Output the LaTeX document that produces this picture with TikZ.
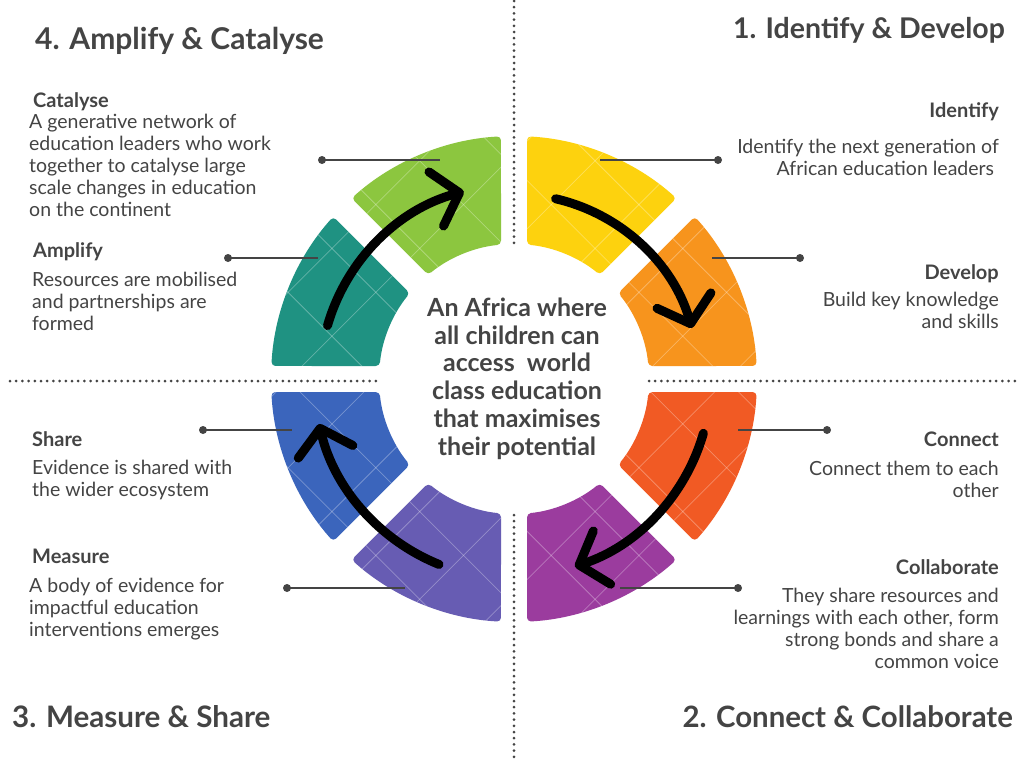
\documentclass[tikz,border=0pt]{standalone}
\usepackage{fontspec}
\setmainfont{Lato}
\usetikzlibrary{arrows.meta,calc}
\definecolor{cYellow}{HTML}{FDD20E}
\definecolor{cOrange}{HTML}{F7941D}
\definecolor{cRed}{HTML}{F15A24}
\definecolor{cPurple}{HTML}{9B3C9E}
\definecolor{cViolet}{HTML}{675CB3}
\definecolor{cBlue}{HTML}{3B65BC}
\definecolor{cTeal}{HTML}{1F9282}
\definecolor{cGreen}{HTML}{8CC63F}
\definecolor{txt}{HTML}{444444}
\newcommand\ringseg[2]{%
  \pgfmathsetmacro\ao{#1+3.07}\pgfmathsetmacro\bo{#1+45-3.07}%
  \pgfmathsetmacro\ai{#1+5.53}\pgfmathsetmacro\bi{#1+45-5.53}%
  \begin{scope}
    \clip[rounded corners=4pt] ($(C)+(\ao:243)$) arc[start angle=\ao,end angle=\bo,radius=243]
      -- ($(C)+(\bi:135)$) arc[start angle=\bi,end angle=\ai,radius=135] -- cycle;
    \fill[#2] (250,-100) rectangle (780,-660);
    \foreach \i in {0,...,13}{
      \draw[hatch] ({405+\i*87.7-800},-800) -- ({405+\i*87.7},0);
      \draw[hatch] ({-355+\i*87.7+800},-800) -- ({-355+\i*87.7},0);
    }
  \end{scope}}
\tikzset{
  hatch/.style={draw=white,opacity=0.3,line width=0.8pt},
  dotline/.style={draw=txt,line width=3pt,line cap=round,dash pattern=on 0pt off 6.2pt},
  conn/.style={draw=txt,line width=1.6pt},
  dotmark/.style={circle,fill=txt,inner sep=0pt,minimum size=8pt},
  bigarrow/.style={line width=9pt,line cap=round,-{Straight Barb[length=24pt,width=56pt,round]}},
  title/.style={text=txt,inner sep=0pt},
  head/.style={font=\fontsize{20}{22}\selectfont\bfseries,text=txt,inner sep=0pt},
  bodyl/.style={font=\fontsize{19.5}{22}\selectfont,text=txt,inner sep=0pt,align=left,anchor=north west},
  bodyr/.style={font=\fontsize{19.5}{22}\selectfont,text=txt,inner sep=0pt,align=right,anchor=north east},
  centre/.style={font=\fontsize{25}{27.8}\selectfont\bfseries,text=txt,inner sep=0pt,align=center,anchor=north}
}
\begin{document}
\begin{tikzpicture}[x=1pt,y=1pt]
\useasboundingbox (0,0) rectangle (1024,-761);
\fill[white] (0,0) rectangle (1024,-761);
\coordinate (C) at (514,-379);
% dotted quadrant lines
\draw[dotline] (514,-1) -- (514,-243);
\draw[dotline] (514,-515) -- (514,-760);
\draw[dotline] (10,-381) -- (379,-381);
\draw[dotline] (649,-381) -- (1020,-381);
% ring segments
\ringseg{0}{cOrange}
\ringseg{45}{cYellow}
\ringseg{90}{cGreen}
\ringseg{135}{cTeal}
\ringseg{180}{cBlue}
\ringseg{225}{cViolet}
\ringseg{270}{cPurple}
\ringseg{315}{cRed}
% arrows
\draw[bigarrow] ($(C)+(164:194)$) arc[start angle=164,end angle=105,radius=194];
\draw[bigarrow] ($(C)+(77:185)$) arc[start angle=77,end angle=16,radius=185];
\draw[bigarrow] ($(C)+(-16:197)$) arc[start angle=-16,end angle=-72,radius=197];
\draw[bigarrow] ($(C)+(-112:200)$) arc[start angle=-112,end angle=-167,radius=200];
% centre text
\node[centre] (vision) at (517,-297.5) {An Africa where\\all children can\\access~ world\\class education\\that maximises\\their potential};
% titles
\node[title,font=\fontsize{30}{36}\selectfont\bfseries,anchor=base west] (t4) at (35,-49) {4. Amplify \& Catalyse};
\node[title,font=\fontsize{28.5}{36}\selectfont\bfseries,anchor=base east] (t1) at (1005,-38) {1. Identify \& Develop};
\node[title,font=\fontsize{29.6}{36}\selectfont\bfseries,anchor=base west] (t3) at (12,-727) {3. Measure \& Share};
\node[title,font=\fontsize{29.4}{36}\selectfont\bfseries,anchor=base east] (t2) at (1013,-727) {2. Connect \& Collaborate};
% left blocks
\node[head,anchor=base west] (hCat) at (33,-107) {Catalyse};
\node[bodyl] (bCat) at (29,-113.5) {A generative network of\\education leaders who work\\together to catalyse large\\scale changes in education\\on the continent};
\node[head,anchor=base west] (hAmp) at (33,-257) {Amplify};
\node[bodyl] (bAmp) at (32,-271.5) {Resources are mobilised\\and partnerships are\\formed};
\node[head,anchor=base west] (hSha) at (32,-446) {Share};
\node[bodyl] (bSha) at (32,-459.5) {Evidence is shared with\\the wider ecosystem};
\node[head,anchor=base west] (hMea) at (32,-563) {Measure};
\node[bodyl] (bMea) at (29,-577.5) {A body of evidence for\\impactful education\\interventions emerges};
% right blocks
\node[head,anchor=base east] (hIde) at (999,-117) {Identify};
\node[bodyr] (bIde) at (999,-138.5) {Identify the next generation of\\African education leaders\hphantom{i}};
\node[head,anchor=base east] (hDev) at (999,-279) {Develop};
\node[bodyr] (bDev) at (999,-291.5) {Build key knowledge\\and skills};
\node[head,anchor=base east] (hCon) at (999,-446) {Connect};
\node[bodyr] (bCon) at (999,-460.5) {Connect them to each\\other};
\node[head,anchor=base east] (hCol) at (999,-574) {Collaborate};
\node[bodyr] (bCol) at (999,-587.5) {They share resources and\\learnings with each other, form\\strong bonds and share a\\common voice};
% connectors
\node[dotmark] (dCat) at (322,-160) {}; \coordinate (sCat) at (440,-160);
\draw[conn] (dCat.center) -- (sCat);
\node[dotmark] (dIde) at (718,-160) {}; \coordinate (sIde) at (600,-160);
\draw[conn] (sIde) -- (dIde.center);
\node[dotmark] (dAmp) at (228,-258) {}; \coordinate (sAmp) at (318,-258);
\draw[conn] (dAmp.center) -- (sAmp);
\node[dotmark] (dDev) at (800,-258) {}; \coordinate (sDev) at (712,-258);
\draw[conn] (sDev) -- (dDev.center);
\node[dotmark] (dCon) at (827,-430) {}; \coordinate (sCon) at (738,-430);
\draw[conn] (sCon) -- (dCon.center);
\node[dotmark] (dSha) at (203,-430) {}; \coordinate (sSha) at (292,-430);
\draw[conn] (dSha.center) -- (sSha);
\node[dotmark] (dMea) at (287,-588) {}; \coordinate (sMea) at (405,-588);
\draw[conn] (dMea.center) -- (sMea);
\node[dotmark] (dCol) at (738,-588) {}; \coordinate (sCol) at (620,-588);
\draw[conn] (sCol) -- (dCol.center);
\end{tikzpicture}
\end{document}
